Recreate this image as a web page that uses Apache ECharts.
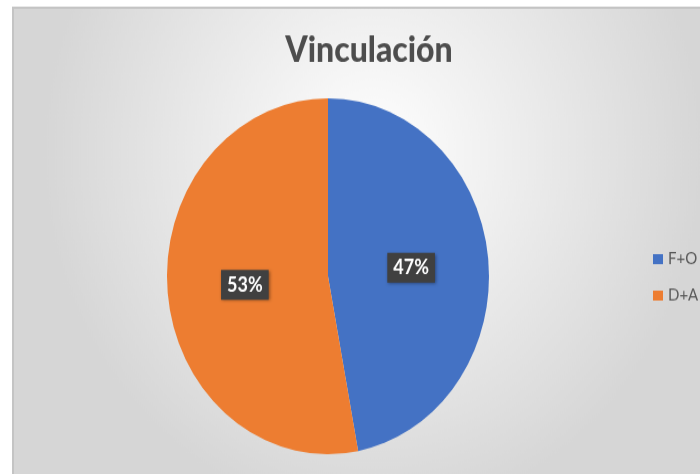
<!DOCTYPE html>
<html>
<head>
<meta charset="utf-8">
<script src="https://cdn.jsdelivr.net/npm/echarts@6/dist/echarts.min.js"></script>
<style>
  html, body { margin: 0; padding: 0; background: #fff; }
  #wrap { width: 700px; height: 474px; overflow: hidden; position: relative; }
  /* the reference pie is an ellipse (stretched picture), so the whole chart is stretched a bit */
  #chartPie { width: 700px; height: 429px; transform: scaleY(1.105); transform-origin: 0 0; }
</style>
</head>
<body>
<div id="wrap"><div id="chartPie"></div></div>
<script>
// datos
var categories = ["F+O", "D+A"];
var values = [47, 53];
var colors = ["#4472C4", "#ED7D31"];

var pieData = categories.map(function (name, i) {
  return { name: name, value: values[i], itemStyle: { color: colors[i] } };
});

var chart = echarts.init(document.getElementById("chartPie"));

var option = {
  animation: false,
  graphic: [
    {
      // fondo del area del grafico
      type: "rect",
      z: -10,
      shape: { x: 13, y: 7, width: 720, height: 440 },
      style: {
        fill: {
          type: "radial",
          x: 0.5,
          y: 0.3,
          r: 0.75,
          colorStops: [
            { offset: 0, color: "#ffffff" },
            { offset: 1, color: "#d6d6d6" },
          ],
        },
        stroke: "#c4c4c4",
        lineWidth: 2,
      },
    },
  ],
  title: {
    text: "Vinculación",
    left: 364,
    top: 25,
    textAlign: "center",
    textStyle: {
      fontFamily: "Lato",
      fontWeight: 900,
      fontSize: 32,
      color: "#4d4d4d",
    },
  },
  legend: {
    orient: "vertical",
    left: 653,
    top: 227,
    padding: 0,
    itemWidth: 10,
    itemHeight: 9,
    itemGap: 18,
    itemStyle: { borderWidth: 0 },
    icon: "rect",
    data: categories,
    textStyle: {
      fontFamily: "Lato",
      fontSize: 15,
      color: "#595959",
    },
  },
  series: [
    {
      type: "pie",
      center: [328, 250],
      radius: [0, 161],
      startAngle: 90,
      clockwise: true,
      data: pieData,
      itemStyle: { borderWidth: 0 },
      label: {
        position: "inside",
        formatter: "{d}%",
        fontFamily: "Lato",
        fontWeight: "bold",
        fontSize: 18,
        color: "#ffffff",
        backgroundColor: "#404040",
        padding: [5, 6, 4, 6],
        shadowColor: "rgba(0,0,0,0.4)",
        shadowBlur: 3,
        shadowOffsetX: 1,
        shadowOffsetY: 1,
      },
      labelLine: { show: false },
    },
  ],
};

chart.setOption(option);
</script>
</body>
</html>
